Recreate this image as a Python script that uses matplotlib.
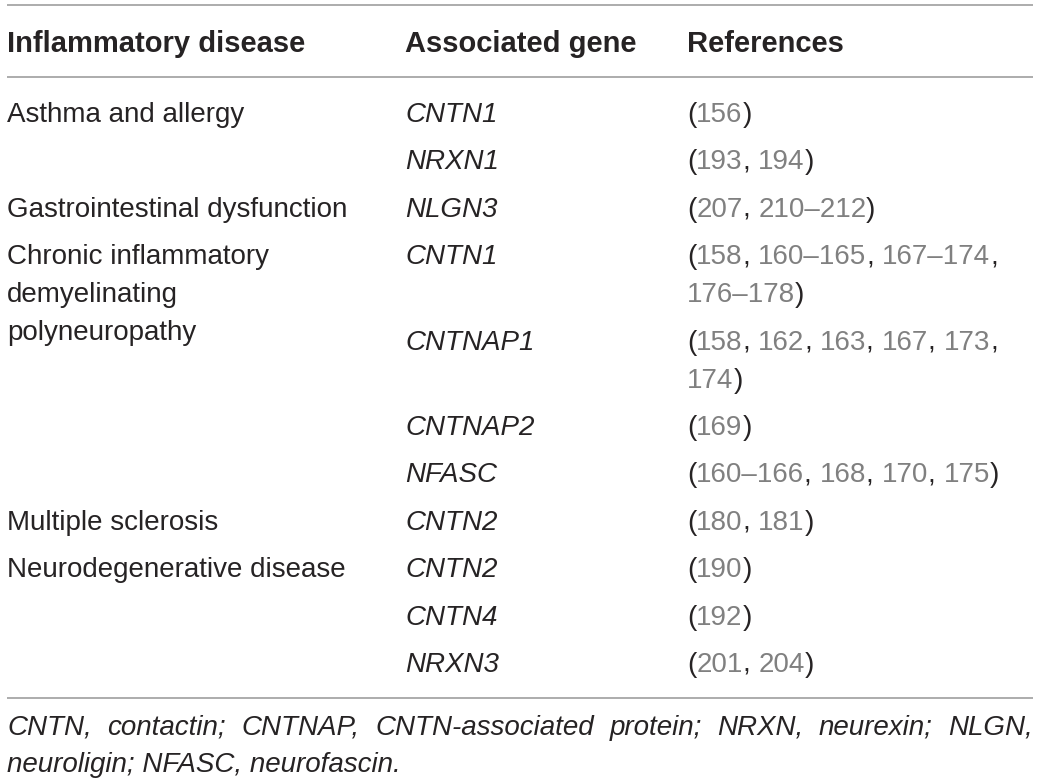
import re
import matplotlib
matplotlib.use("Agg")
import matplotlib.pyplot as plt
from matplotlib.font_manager import FontProperties

# table content
headers = ["Inflammatory disease", "Associated gene", "References"]
diseases = [["Asthma and allergy"],
            ["Gastrointestinal dysfunction"],
            ["Chronic inflammatory", "demyelinating", "polyneuropathy"],
            ["Multiple sclerosis"],
            ["Neurodegenerative disease"]]
genes = [["CNTN1", "NRXN1"],
         ["NLGN3"],
         ["CNTN1", "CNTNAP1", "CNTNAP2", "NFASC"],
         ["CNTN2"],
         ["CNTN2", "CNTN4", "NRXN3"]]
refs = [[["(156)"], ["(193, 194)"]],
        [["(207, 210–212)"]],
        [["(158, 160–165, 167–174,", "176–178)"],
         ["(158, 162, 163, 167, 173,", "174)"],
         ["(169)"],
         ["(160–166, 168, 170, 175)"]],
        [["(180, 181)"]],
        [["(190)"], ["(192)"], ["(201, 204)"]]]
footnote_1 = "CNTN, contactin; CNTNAP, CNTN-associated protein; NRXN, neurexin; NLGN,"
footnote_2 = "neuroligin; NFASC, neurofascin."

W, H = 1040, 784
fig = plt.figure(figsize=(W / 100, H / 100), dpi=100)
ax = fig.add_axes([0, 0, 1, 1])
ax.set_xlim(0, W)
ax.set_ylim(H, 0)
ax.axis("off")

dark = "#262324"
grey = "#808080"
rule = "#a6a6a6"
fs = 20
x_cols = [7, 405, 687]
left, right = 7, 1033

fig.canvas.draw()
renderer = fig.canvas.get_renderer()


def text_width(s, prop):
    w, h, d = renderer.get_text_width_height_descent(s, prop, ismath=False)
    return w


def ref_line(x, y, s):
    # numbers grey (links), brackets and commas dark
    prop = FontProperties(family="Liberation Sans", size=fs)
    pos = 0
    for tok in re.findall(r"[0-9–]+|[^0-9–]+", s):
        col = grey if tok[0].isdigit() else dark
        ax.text(x + text_width(s[:pos], prop), y, tok, color=col,
                fontproperties=prop, va="baseline", ha="left")
        pos += len(tok)


# rules
for yy in [5, 77, 698]:
    ax.plot([left, right], [yy, yy], color=rule, lw=1.3, solid_capstyle="butt")

# header
for x, h in zip(x_cols, headers):
    ax.text(x, 52, h, fontsize=21, fontweight="bold", family="Liberation Sans",
            color=dark, va="baseline")

row_gap, wrap_gap = 47.4, 38
y = 122
for dis, gs, rs in zip(diseases, genes, refs):
    for i, line in enumerate(dis):
        ax.text(x_cols[0], y + i * wrap_gap, line, fontsize=fs,
                family="Liberation Sans", color=dark, va="baseline")
    for g, r in zip(gs, rs):
        ax.text(x_cols[1], y, g, fontsize=fs, family="Liberation Sans",
                style="italic", color=dark, va="baseline")
        for j, rl in enumerate(r):
            ref_line(x_cols[2], y + j * wrap_gap, rl)
        y += (len(r) - 1) * wrap_gap + row_gap

# footnote, first line justified
iprop = FontProperties(family="Liberation Sans", size=fs, style="italic")
words = footnote_1.split(" ")
widths = [text_width(w, iprop) for w in words]
gap = (right - left - sum(widths)) / (len(words) - 1)
xw = left
for w, wd in zip(words, widths):
    ax.text(xw, 735, w, fontproperties=iprop, color=dark, va="baseline")
    xw += wd + gap
ax.text(left, 772, footnote_2, fontproperties=iprop, color=dark, va="baseline")

fig.savefig("out.png", dpi=100)
